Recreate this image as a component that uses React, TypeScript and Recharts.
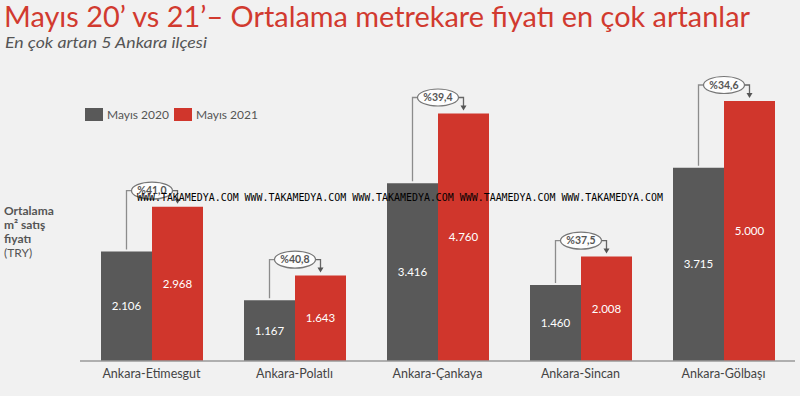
import React from 'react';
import { BarChart, Bar, XAxis, YAxis, LabelList } from 'recharts';

const districts = ['Ankara-Etimesgut', 'Ankara-Polatlı', 'Ankara-Çankaya', 'Ankara-Sincan', 'Ankara-Gölbaşı'];
const may2020 = [2106, 1167, 3416, 1460, 3715];
const may2021 = [2968, 1643, 4760, 2008, 5000];
const changeLabels = ['%41,0', '%40,8', '%39,4', '%37,5', '%34,6'];
const seriesNames = ['Mayıs 2020', 'Mayıs 2021'];
const yDomain = [0, 5000];

const titleText = 'Mayıs 20’ vs 21’– Ortalama metrekare fiyatı en çok artanlar';
const subtitleText = 'En çok artan 5 Ankara ilçesi';
const yLabelLines = ['Ortalama', 'm² satış', 'fiyatı', '(TRY)'];
const watermark = 'WWW.TAKAMEDYA.COM WWW.TAKAMEDYA.COM WWW.TAKAMEDYA.COM WWW.TAAMEDYA.COM WWW.TAKAMEDYA.COM';

const GRAY = '#595959';
const RED = '#d0362c';
const FONT = 'Lato, "Open Sans", sans-serif';

const data = districts.map((d, i) => ({ name: d, y2020: may2020[i], y2021: may2021[i] }));

const fmt = (v: number) => {
  const s = String(Math.round(v));
  return s.replace(/\B(?=(\d{3})+(?!\d))/g, '.');
};

const Callout = (props: any) => {
  const { x, y, width, height, index } = props;
  const v21 = may2021[index];
  const v20 = may2020[index];
  const base = y + height;
  const k = height / v21;
  const grayTop = base - v20 * k;
  const grayCx = x - width / 2;
  const redCx = x + width / 2;
  const ey = y - 16;
  const ecx = x;
  const rx = 20.5;
  const ry = 8.5;
  return (
    <g>
      <polyline
        points={`${grayCx},${grayTop - 2} ${grayCx},${ey} ${ecx - rx},${ey}`}
        fill="none"
        stroke="#8c8c8c"
        strokeWidth={1.3}
      />
      <polyline
        points={`${ecx + rx},${ey} ${redCx},${ey} ${redCx},${y - 7}`}
        fill="none"
        stroke="#666"
        strokeWidth={1.3}
      />
      <polygon points={`${redCx - 3},${y - 8} ${redCx + 3},${y - 8} ${redCx},${y - 3}`} fill="#555" />
      <ellipse cx={ecx} cy={ey} rx={rx} ry={ry} fill="#fdfdfd" stroke="#777" strokeWidth={1.2} />
      <text
        x={ecx}
        y={ey}
        dy="0.35em"
        textAnchor="middle"
        fontSize={10.5}
        fontWeight="bold"
        fontFamily={FONT}
        fill="#555"
      >
        {changeLabels[index]}
      </text>
    </g>
  );
};

export default function App() {
  return (
    <div style={{ position: 'absolute', left: 0, top: 0, width: 800, height: 396, background: '#f1f1f1', overflow: 'hidden' }}>
      <BarChart
        width={800}
        height={396}
        data={data}
        margin={{ top: 101, right: 5, bottom: 5, left: 80 }}
        barGap={0}
        barSize={51}
      >
        <XAxis
          dataKey="name"
          height={30}
          tickLine={false}
          axisLine={{ stroke: '#999', strokeWidth: 1.5 }}
          tick={{ fill: '#444', fontSize: 12.5, fontFamily: FONT }}
          interval={0}
        />
        <YAxis hide domain={yDomain} />
        <Bar dataKey="y2020" name={seriesNames[0]} fill={GRAY} isAnimationActive={false}>
          <LabelList
            dataKey="y2020"
            position="center"
            formatter={(v: any) => fmt(Number(v))}
            style={{ fill: '#fff', fontSize: 11.5, fontFamily: FONT }}
          />
        </Bar>
        <Bar dataKey="y2021" name={seriesNames[1]} fill={RED} isAnimationActive={false}>
          <LabelList
            dataKey="y2021"
            position="center"
            formatter={(v: any) => fmt(Number(v))}
            style={{ fill: '#fff', fontSize: 11.5, fontFamily: FONT }}
          />
          <LabelList dataKey="y2021" content={<Callout />} />
        </Bar>
      </BarChart>
      <svg width={800} height={396} style={{ position: 'absolute', left: 0, top: 0, pointerEvents: 'none' }}>
        <text x={4} y={27} fontSize={28} fontFamily={FONT} fill="#d13a2f" textLength={746} lengthAdjust="spacingAndGlyphs">
          {titleText}
        </text>
        <text x={5} y={48} fontSize={15} fontStyle="italic" fontFamily={FONT} fill="#555" textLength={202} lengthAdjust="spacingAndGlyphs">
          {subtitleText}
        </text>
        <rect x={85} y={108} width={18} height={13} fill={GRAY} />
        <text x={107} y={119} fontSize={12} fontFamily={FONT} fill="#555">{seriesNames[0]}</text>
        <rect x={174} y={108} width={18} height={13} fill={RED} />
        <text x={196} y={119} fontSize={12} fontFamily={FONT} fill="#555">{seriesNames[1]}</text>
        {yLabelLines.map((t, i) => (
          <text
            key={t}
            x={4}
            y={215 + i * 14}
            fontSize={12}
            fontWeight={i < 3 ? 'bold' : 'normal'}
            fontFamily={FONT}
            fill="#555"
          >
            {t}
          </text>
        ))}
        <text x={137} y={201} fontSize={10} fontFamily='"DejaVu Sans Mono", monospace' fill="#000" textLength={526} lengthAdjust="spacingAndGlyphs">
          {watermark}
        </text>
      </svg>
    </div>
  );
}
